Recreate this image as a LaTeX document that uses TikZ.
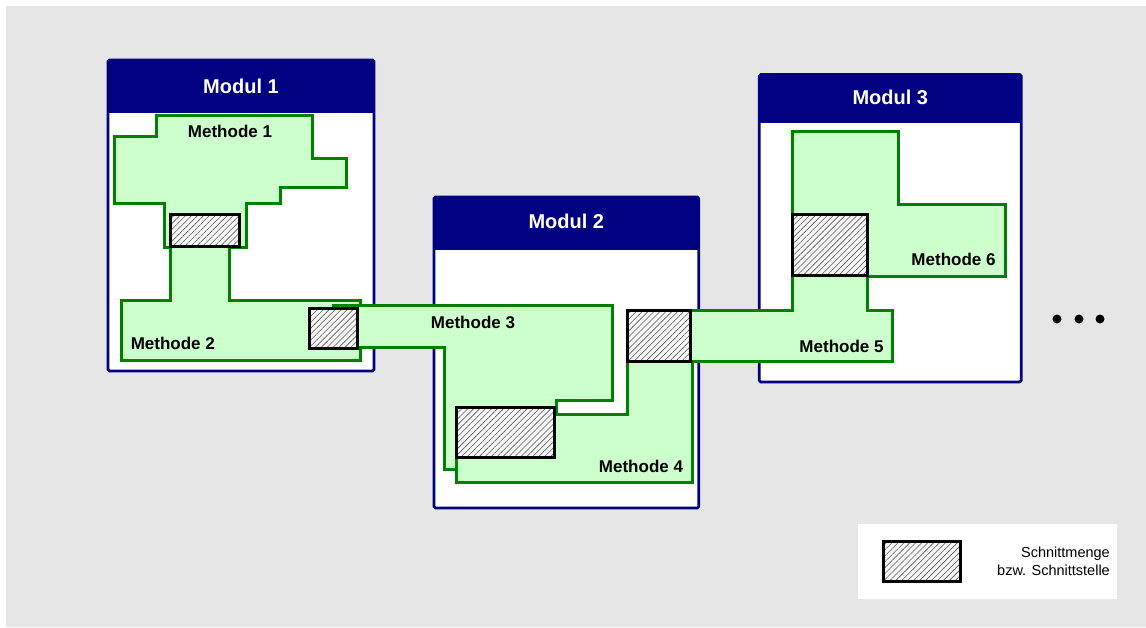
\documentclass[tikz,border=0pt]{standalone}
\usepackage{fontspec}
\setmainfont{Liberation Sans}
\usetikzlibrary{patterns.meta}
\definecolor{modulblau}{HTML}{000080}
\definecolor{methgruen}{HTML}{CCFFCC}
\definecolor{methrand}{HTML}{008000}
\definecolor{hgrau}{HTML}{E6E6E6}

\begin{document}
\begin{tikzpicture}[
    x=1pt, y=-1pt,
    modul/.style={draw=modulblau, line width=2.7pt, fill=white, rounded corners=1.5pt},
    kopf/.style={fill=modulblau},
    titel/.style={text=white, font=\fontsize{20}{24}\selectfont\bfseries, inner sep=0pt},
    methode/.style={draw=methrand, fill=methgruen, line width=3pt, line join=miter},
    mlabel/.style={font=\fontsize{17}{20}\selectfont\bfseries, inner sep=0pt},
    schnitt/.style={draw=black, line width=3.2pt, preaction={fill=gray!6}, pattern={Lines[angle=45,distance=4.2pt,line width=0.6pt]}, pattern color=gray!70!black}
]

\useasboundingbox (0,0) rectangle (1146,627);
\fill[hgrau] (6,6) rectangle (1146,627);

% Module
\draw[modul] (108,60) rectangle (374,371);
\fill[kopf] (108,60) rectangle (374,113);
\node[titel] (modul1) at (241,86) {Modul 1};

\draw[modul] (434,197) rectangle (698.7,508);
\fill[kopf] (434,197) rectangle (698.7,250);
\node[titel] (modul2) at (566.3,221.7) {Modul 2};

\draw[modul] (759.3,74.5) rectangle (1021.3,382);
\fill[kopf] (759.3,74.5) rectangle (1021.3,123.3);
\node[titel] (modul3) at (890.3,97.3) {Modul 3};

% Methoden
\draw[methode] (156,115.7) -- (312.7,115.7) -- (312.7,158.3) -- (346.7,158.3) -- (346.7,187.7)
  -- (280.7,187.7) -- (280.7,203.3) -- (246.7,203.3) -- (246.7,247.7) -- (164.3,247.7)
  -- (164.3,203.3) -- (114.3,203.3) -- (114.3,136.7) -- (156,136.7) -- cycle;
\draw[methode] (170.5,246.2) -- (170.5,300.7) -- (121.7,300.7) -- (121.7,360.7) -- (360,360.7)
  -- (360,300.7) -- (229,300.7) -- (229,246.2) -- cycle;
\draw[methode] (333,305.7) -- (612.7,305.7) -- (612.7,400.7) -- (556,400.7) -- (556,430)
  -- (456.2,430) -- (456.2,469.3) -- (444.3,469.3) -- (444.3,347.3) -- (333,347.3) -- cycle;
\draw[methode] (627.5,330) -- (627.5,414.3) -- (554.5,414.3) -- (554.5,440) -- (456.2,440)
  -- (456.2,482.7) -- (692.3,482.7) -- (692.3,330) -- cycle;
\draw[methode] (690.8,310.8) -- (792.5,310.8) -- (792.5,250) -- (867.8,250) -- (867.8,310.8)
  -- (892.7,310.8) -- (892.7,361.8) -- (690.8,361.8) -- cycle;
\draw[methode] (792.5,131) -- (898.7,131) -- (898.7,204) -- (1005,204) -- (1005,276.7)
  -- (867.8,276.7) -- (867.8,240) -- (792.5,240) -- cycle;

% Schnittstellen
\draw[schnitt] (170.5,214.8) rectangle (239.5,246.2);
\draw[schnitt] (309.8,308.2) rectangle (357.5,348.5);
\draw[schnitt] (456.2,407.5) rectangle (554.5,457.8);
\draw[schnitt] (627.5,310.8) rectangle (690.8,361.8);
\draw[schnitt] (792.8,214.8) rectangle (867.8,275.2);

% Beschriftungen
\node[mlabel] (meth1) at (230,131) {Methode 1};
\node[mlabel] (meth2) at (172.8,343.3) {Methode 2};
\node[mlabel] (meth3) at (473,322.3) {Methode 3};
\node[mlabel] (meth4) at (641,466) {Methode 4};
\node[mlabel] (meth5) at (841.5,346) {Methode 5};
\node[mlabel] (meth6) at (953.5,259) {Methode 6};

% weitere Module
\foreach \px in {1057,1079,1100}
  \fill (\px,319) circle (4.5);

% Legende
\fill[white] (858.3,524) rectangle (1116.7,599);
\draw[schnitt] (883.8,541.5) rectangle (960.5,581.2);
\node[anchor=east, align=right, inner sep=0pt, font=\fontsize{14.5}{18.4}\selectfont] (legende) at (1110,561.5) {Schnittmenge\\bzw. Schnittstelle};

\end{tikzpicture}
\end{document}
